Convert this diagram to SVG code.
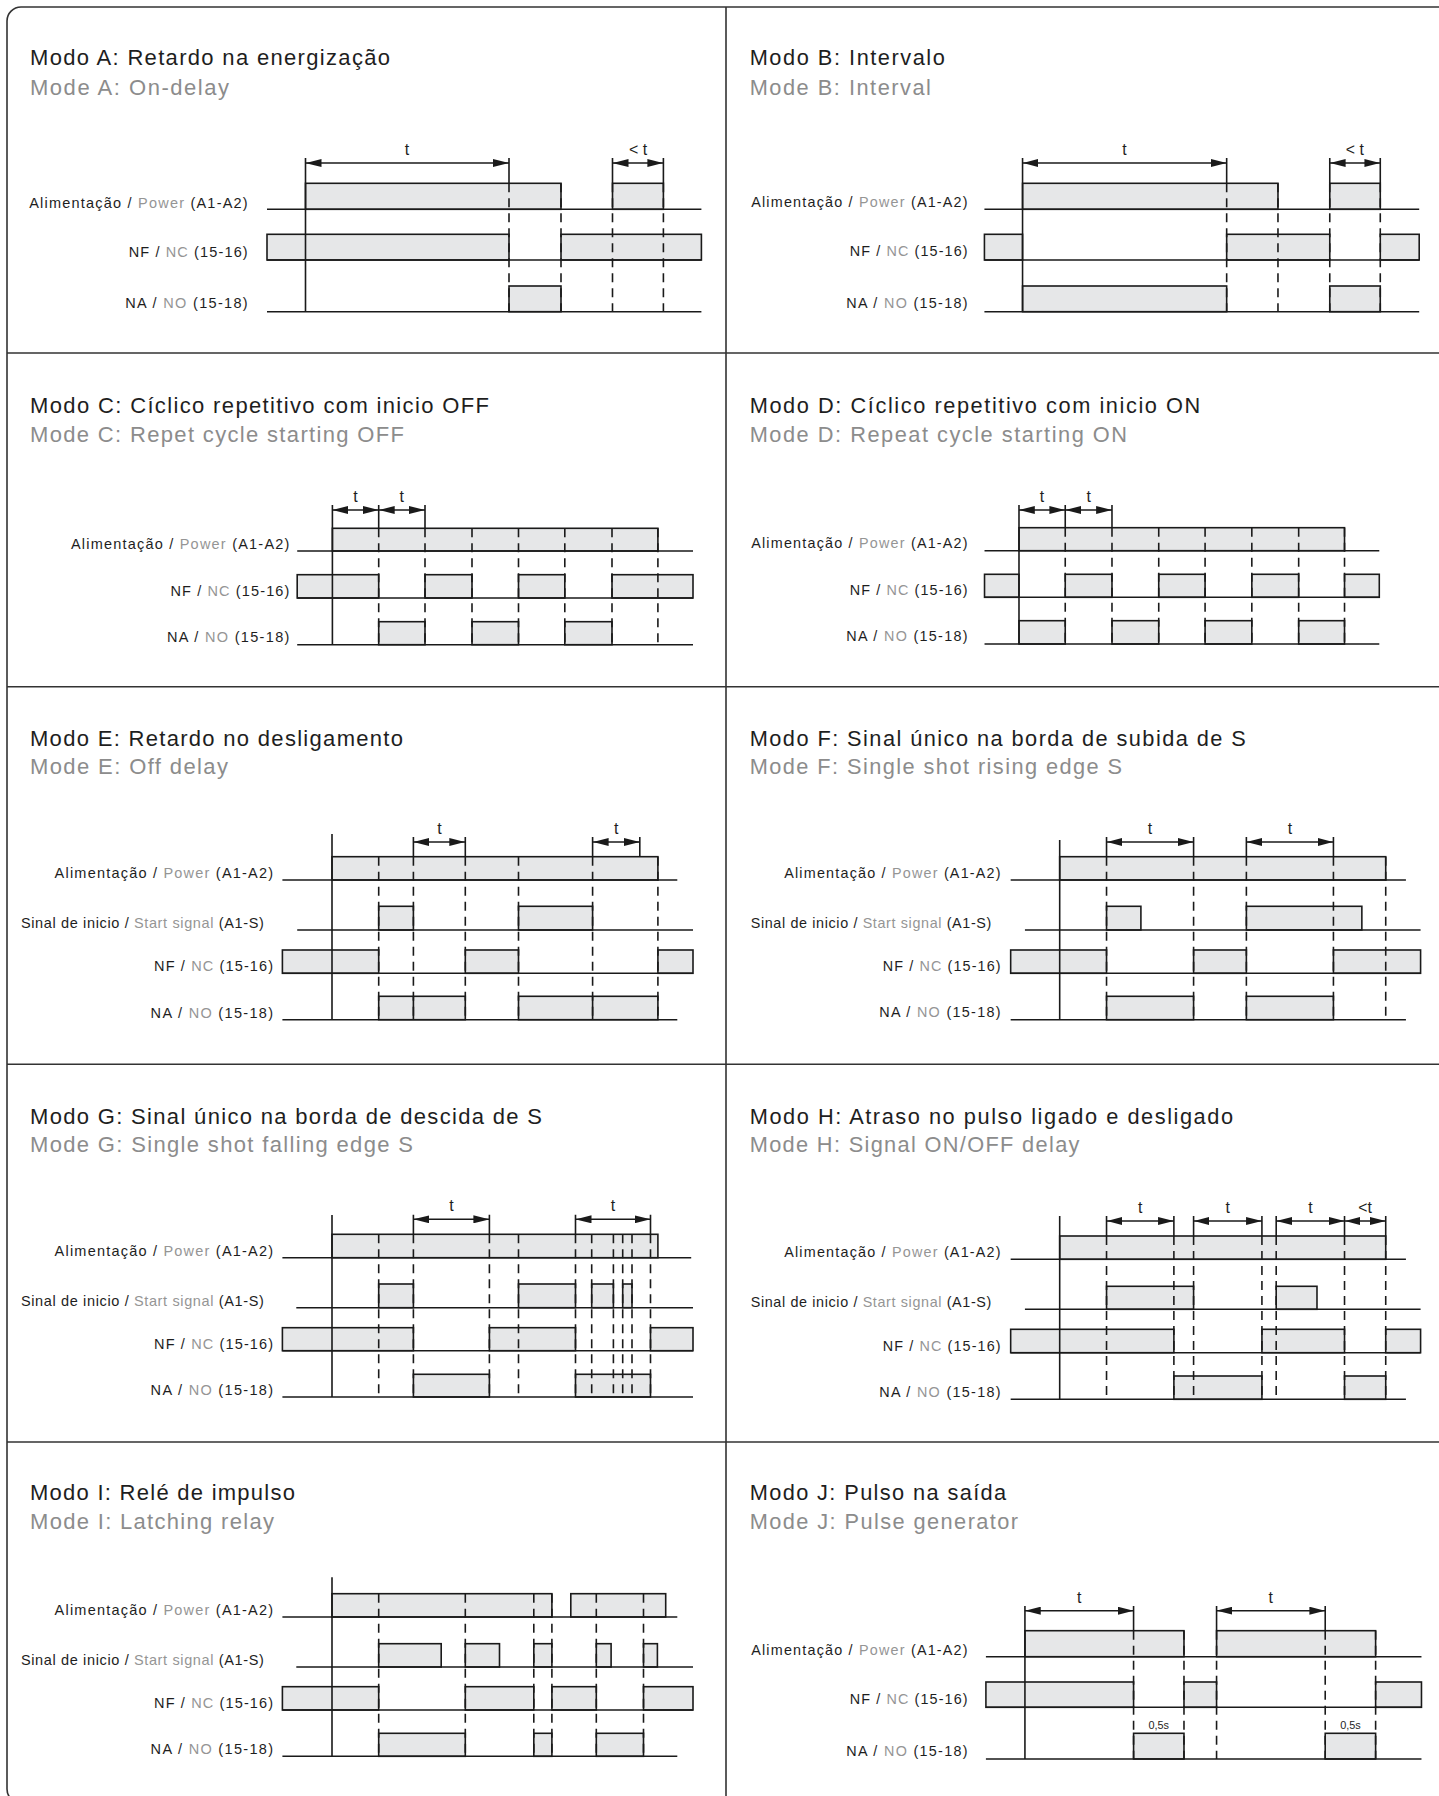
<svg xmlns="http://www.w3.org/2000/svg" width="1439" height="1796" viewBox="0 0 1439 1796">
<defs>
<style>
text{font-family:"Liberation Sans",Arial,Helvetica,sans-serif;fill:#1e1e1e}
.ti{font-size:22px}
.su{font-size:22px;fill:#8c8c8c}
.lb{font-size:14.5px}
.g{fill:#959595}
.t{font-size:16px;text-anchor:middle}
.sm{font-size:11px;text-anchor:middle}
.b{fill:#e6e7e8;stroke:#1a1a1a;stroke-width:1.6}
.l{fill:none;stroke:#1a1a1a;stroke-width:1.6}
.d{fill:none;stroke:#1a1a1a;stroke-width:1.6;stroke-dasharray:9 6}
.dim{stroke:#1a1a1a;stroke-width:1.6;marker-start:url(#ah);marker-end:url(#ah)}
.fr{fill:none;stroke:#333;stroke-width:1.6}
</style>
<marker id="ah" viewBox="0 0 16 8" refX="16" refY="4" markerWidth="16" markerHeight="8" markerUnits="userSpaceOnUse" orient="auto-start-reverse"><path d="M0,0 L16,4 L0,8 z" fill="#1a1a1a"/></marker>
</defs>
<rect width="1439" height="1796" fill="#fff"/>
<g id="frame">
<rect class="fr" x="7" y="7" width="1450" height="1796" rx="14"/>
<path class="fr" d="M726 7V1796M7 353H1439M7 686.7H1439M7 1064.3H1439M7 1442H1439"/>
</g>

<g id="mode-a">
<text class="ti" x="30" y="65" textLength="360" lengthAdjust="spacing">Modo A: Retardo na energização</text>
<text class="su" x="30" y="95" textLength="199" lengthAdjust="spacing">Mode A: On-delay</text>
<text class="lb" x="29.2" y="207.5" textLength="218.5" lengthAdjust="spacing">Alimentação / <tspan class="g">Power</tspan> (A1-A2)</text>
<text class="lb" x="128.7" y="256.5" textLength="119" lengthAdjust="spacing">NF / <tspan class="g">NC</tspan> (15-16)</text>
<text class="lb" x="125.2" y="308" textLength="122.5" lengthAdjust="spacing">NA / <tspan class="g">NO</tspan> (15-18)</text>
<rect class="b" x="305.5" y="183.3" width="255.5" height="26"/>
<rect class="b" x="612.5" y="183.3" width="50.9" height="26"/>
<rect class="b" x="267" y="234.3" width="242" height="25.7"/>
<rect class="b" x="561" y="234.3" width="140.4" height="25.7"/>
<rect class="b" x="509" y="286" width="52" height="25.7"/>
<path class="l" d="M267 209.3H701.4M267 260H701.4M267 311.7H701.4M305.5 158V311.7M509 158V183.3M612.5 158V183.3M663.4 158V183.3"/>
<path class="d" d="M509 183.3V311.7M561 183.3V311.7M612.5 183.3V311.7M663.4 183.3V311.7"/>
<line class="dim" x1="305.5" y1="163" x2="509" y2="163"/>
<line class="dim" x1="612.5" y1="163" x2="663.4" y2="163"/>
<text class="t" x="407" y="155">t</text>
<text class="t" x="638" y="155">&lt; t</text>
</g>

<g id="mode-b" transform="matrix(0.99037 0 0 1 6.93 0)">
<text class="ti" x="750" y="65" textLength="197" lengthAdjust="spacing">Modo B: Intervalo</text>
<text class="su" x="750" y="95" textLength="183" lengthAdjust="spacing">Mode B: Interval</text>
<text class="lb" x="751.5" y="207.5" textLength="218.5" lengthAdjust="spacing">Alimentação / <tspan class="g">Power</tspan> (A1-A2)</text>
<text class="lb" x="851" y="256.5" textLength="119" lengthAdjust="spacing">NF / <tspan class="g">NC</tspan> (15-16)</text>
<text class="lb" x="847.5" y="308" textLength="122.5" lengthAdjust="spacing">NA / <tspan class="g">NO</tspan> (15-18)</text>
<rect class="b" x="1025.5" y="183.3" width="257.9" height="26"/>
<rect class="b" x="1335.7" y="183.3" width="51" height="26"/>
<rect class="b" x="987" y="234.3" width="38.5" height="25.7"/>
<rect class="b" x="1231.6" y="234.3" width="104.1" height="25.7"/>
<rect class="b" x="1386.7" y="234.3" width="39.3" height="25.7"/>
<rect class="b" x="1025.5" y="286" width="206.1" height="25.7"/>
<rect class="b" x="1335.7" y="286" width="51" height="25.7"/>
<path class="l" d="M987 209.3H1426M987 260H1426M987 311.7H1426M1025.5 158V311.7M1231.6 158V183.3M1335.7 158V183.3M1386.7 158V183.3"/>
<path class="d" d="M1231.6 183.3V311.7M1283.4 183.3V311.7M1335.7 183.3V311.7M1386.7 183.3V311.7"/>
<line class="dim" x1="1025.5" y1="163" x2="1231.6" y2="163"/>
<line class="dim" x1="1335.7" y1="163" x2="1386.7" y2="163"/>
<text class="t" x="1128.5" y="155">t</text>
<text class="t" x="1361" y="155">&lt; t</text>
</g>

<g id="mode-c">
<text class="ti" x="30" y="413.3" textLength="459" lengthAdjust="spacing">Modo C: Cíclico repetitivo com inicio OFF</text>
<text class="su" x="30" y="441.7" textLength="374" lengthAdjust="spacing">Mode C: Repet cycle starting OFF</text>
<text class="lb" x="70.9" y="548.5" textLength="218.5" lengthAdjust="spacing">Alimentação / <tspan class="g">Power</tspan> (A1-A2)</text>
<text class="lb" x="170.4" y="595.5" textLength="119" lengthAdjust="spacing">NF / <tspan class="g">NC</tspan> (15-16)</text>
<text class="lb" x="166.9" y="642" textLength="122.5" lengthAdjust="spacing">NA / <tspan class="g">NO</tspan> (15-18)</text>
<rect class="b" x="332.4" y="528.3" width="325.5" height="22.7"/>
<rect class="b" x="297.2" y="574.7" width="81.5" height="23.3"/>
<rect class="b" x="425" y="574.7" width="47" height="23.3"/>
<rect class="b" x="518.5" y="574.7" width="46.3" height="23.3"/>
<rect class="b" x="612" y="574.7" width="81" height="23.3"/>
<rect class="b" x="378.7" y="621.7" width="46.3" height="23"/>
<rect class="b" x="472" y="621.7" width="46.5" height="23"/>
<rect class="b" x="564.8" y="621.7" width="47.2" height="23"/>
<path class="l" d="M297.2 551H693M297.2 598H693M297.2 644.7H693M332.4 505V644.7M378.7 505V528.3M425 505V528.3"/>
<path class="d" d="M378.7 528.3V644.7M425 528.3V644.7M472 528.3V644.7M518.5 528.3V644.7M564.8 528.3V644.7M612 528.3V644.7M657.9 528.3V644.7"/>
<line class="dim" x1="332.4" y1="510" x2="378.7" y2="510"/>
<line class="dim" x1="378.7" y1="510" x2="425" y2="510"/>
<text class="t" x="355.5" y="502">t</text>
<text class="t" x="401.8" y="502">t</text>
</g>

<g id="mode-d" transform="matrix(0.99037 0 0 1 6.93 0)">
<text class="ti" x="750" y="413.3" textLength="455" lengthAdjust="spacing">Modo D: Cíclico repetitivo com inicio ON</text>
<text class="su" x="750" y="441.7" textLength="381" lengthAdjust="spacing">Mode D: Repeat cycle starting ON</text>
<text class="lb" x="751.5" y="548.5" textLength="218.5" lengthAdjust="spacing">Alimentação / <tspan class="g">Power</tspan> (A1-A2)</text>
<text class="lb" x="851" y="595" textLength="119" lengthAdjust="spacing">NF / <tspan class="g">NC</tspan> (15-16)</text>
<text class="lb" x="847.5" y="641.5" textLength="122.5" lengthAdjust="spacing">NA / <tspan class="g">NO</tspan> (15-18)</text>
<rect class="b" x="1021.9" y="527.7" width="328.7" height="23"/>
<rect class="b" x="987.1" y="574.3" width="34.8" height="23"/>
<rect class="b" x="1068.6" y="574.3" width="47.2" height="23"/>
<rect class="b" x="1163" y="574.3" width="46.8" height="23"/>
<rect class="b" x="1257" y="574.3" width="47.3" height="23"/>
<rect class="b" x="1350.6" y="574.3" width="35.1" height="23"/>
<rect class="b" x="1021.9" y="620.7" width="46.7" height="23.3"/>
<rect class="b" x="1115.8" y="620.7" width="47.2" height="23.3"/>
<rect class="b" x="1209.8" y="620.7" width="47.2" height="23.3"/>
<rect class="b" x="1304.3" y="620.7" width="46.3" height="23.3"/>
<path class="l" d="M987.1 550.7H1385.7M987.1 597.3H1385.7M987.1 644H1385.7M1021.9 505V644M1068.6 505V527.7M1115.8 505V527.7"/>
<path class="d" d="M1068.6 527.7V644M1115.8 527.7V644M1163 527.7V644M1209.8 527.7V644M1257 527.7V644M1304.3 527.7V644M1350.6 527.7V644"/>
<line class="dim" x1="1021.9" y1="510" x2="1068.6" y2="510"/>
<line class="dim" x1="1068.6" y1="510" x2="1115.8" y2="510"/>
<text class="t" x="1045.2" y="502">t</text>
<text class="t" x="1092.2" y="502">t</text>
</g>

<g id="mode-e">
<text class="ti" x="30" y="745.7" textLength="373" lengthAdjust="spacing">Modo E: Retardo no desligamento</text>
<text class="su" x="30" y="774" textLength="198" lengthAdjust="spacing">Mode E: Off delay</text>
<text class="lb" x="54.6" y="878" textLength="218.5" lengthAdjust="spacing">Alimentação / <tspan class="g">Power</tspan> (A1-A2)</text>
<text class="lb" x="20.9" y="928" textLength="243" lengthAdjust="spacing">Sinal de inicio / <tspan class="g">Start signal</tspan> (A1-S)</text>
<text class="lb" x="154.1" y="971" textLength="119" lengthAdjust="spacing">NF / <tspan class="g">NC</tspan> (15-16)</text>
<text class="lb" x="150.6" y="1017.5" textLength="122.5" lengthAdjust="spacing">NA / <tspan class="g">NO</tspan> (15-18)</text>
<rect class="b" x="332" y="856.7" width="325.9" height="23.3"/>
<rect class="b" x="378.7" y="906.3" width="34.7" height="23.7"/>
<rect class="b" x="518.5" y="906.3" width="74.1" height="23.7"/>
<rect class="b" x="282.4" y="950" width="96.3" height="23.3"/>
<rect class="b" x="465.3" y="950" width="53.2" height="23.3"/>
<rect class="b" x="657.9" y="950" width="35.1" height="23.3"/>
<rect class="b" x="378.7" y="996.3" width="86.6" height="23.4"/>
<rect class="b" x="518.5" y="996.3" width="139.4" height="23.4"/>
<path class="l" d="M282.4 880H677.3M297.2 930H693M282.4 973.3H693M282.4 1019.7H677.3M332 834V1019.7M413.4 837V856.7M465.3 837V856.7M592.6 837V856.7M639.8 837V856.7M413.4 996.3V1019.7M592.6 996.3V1019.7"/>
<path class="d" d="M378.7 856.7V1019.7M413.4 856.7V1019.7M465.3 856.7V1019.7M518.5 856.7V1019.7M592.6 856.7V1019.7M657.9 856.7V1019.7"/>
<line class="dim" x1="413.4" y1="842" x2="465.3" y2="842"/>
<line class="dim" x1="592.6" y1="842" x2="639.8" y2="842"/>
<text class="t" x="439.4" y="834">t</text>
<text class="t" x="616.2" y="834">t</text>
</g>

<g id="mode-f" transform="matrix(0.99037 0 0 1 6.93 0)">
<text class="ti" x="750" y="745.7" textLength="501" lengthAdjust="spacing">Modo F: Sinal único na borda de subida de S</text>
<text class="su" x="750" y="774" textLength="376" lengthAdjust="spacing">Mode F: Single shot rising edge S</text>
<text class="lb" x="784.8" y="878" textLength="218.5" lengthAdjust="spacing">Alimentação / <tspan class="g">Power</tspan> (A1-A2)</text>
<text class="lb" x="751" y="928" textLength="243" lengthAdjust="spacing">Sinal de inicio / <tspan class="g">Start signal</tspan> (A1-S)</text>
<text class="lb" x="884.3" y="971" textLength="119" lengthAdjust="spacing">NF / <tspan class="g">NC</tspan> (15-16)</text>
<text class="lb" x="880.8" y="1017.5" textLength="122.5" lengthAdjust="spacing">NA / <tspan class="g">NO</tspan> (15-18)</text>
<rect class="b" x="1063" y="856.7" width="329.2" height="23.3"/>
<rect class="b" x="1110.3" y="906.3" width="34.7" height="23.7"/>
<rect class="b" x="1251.5" y="906.3" width="116.6" height="23.7"/>
<rect class="b" x="1013.5" y="950" width="96.8" height="23.3"/>
<rect class="b" x="1198.2" y="950" width="53.3" height="23.3"/>
<rect class="b" x="1339.4" y="950" width="88" height="23.3"/>
<rect class="b" x="1110.3" y="996.3" width="87.9" height="23.4"/>
<rect class="b" x="1251.5" y="996.3" width="87.9" height="23.4"/>
<path class="l" d="M1013.5 880H1412.6M1027.9 930H1427.4M1013.5 973.3H1427.4M1013.5 1019.7H1412.6M1063 840V1019.7M1110.3 837V856.7M1198.2 837V856.7M1251.5 837V856.7M1339.4 837V856.7"/>
<path class="d" d="M1110.3 856.7V1019.7M1198.2 856.7V1019.7M1251.5 856.7V1019.7M1339.4 856.7V1019.7M1392.2 856.7V1019.7"/>
<line class="dim" x1="1110.3" y1="842" x2="1198.2" y2="842"/>
<line class="dim" x1="1251.5" y1="842" x2="1339.4" y2="842"/>
<text class="t" x="1154.2" y="834">t</text>
<text class="t" x="1295.5" y="834">t</text>
</g>

<g id="mode-g">
<text class="ti" x="30" y="1123.7" textLength="512" lengthAdjust="spacing">Modo G: Sinal único na borda de descida de S</text>
<text class="su" x="30" y="1152" textLength="383" lengthAdjust="spacing">Mode G: Single shot falling edge S</text>
<text class="lb" x="54.6" y="1255.7" textLength="218.5" lengthAdjust="spacing">Alimentação / <tspan class="g">Power</tspan> (A1-A2)</text>
<text class="lb" x="20.9" y="1305.7" textLength="243" lengthAdjust="spacing">Sinal de inicio / <tspan class="g">Start signal</tspan> (A1-S)</text>
<text class="lb" x="154.1" y="1348.7" textLength="119" lengthAdjust="spacing">NF / <tspan class="g">NC</tspan> (15-16)</text>
<text class="lb" x="150.6" y="1395" textLength="122.5" lengthAdjust="spacing">NA / <tspan class="g">NO</tspan> (15-18)</text>
<rect class="b" x="332" y="1234.3" width="325.9" height="23.4"/>
<rect class="b" x="378.7" y="1284" width="34.7" height="23.7"/>
<rect class="b" x="518.5" y="1284" width="57" height="23.7"/>
<rect class="b" x="591.7" y="1284" width="21.7" height="23.7"/>
<rect class="b" x="622.7" y="1284" width="9.3" height="23.7"/>
<rect class="b" x="282.4" y="1327.7" width="131" height="23"/>
<rect class="b" x="489.4" y="1327.7" width="86.1" height="23"/>
<rect class="b" x="650.5" y="1327.7" width="42.5" height="23"/>
<rect class="b" x="413.4" y="1374.3" width="76" height="22.7"/>
<rect class="b" x="575.5" y="1374.3" width="75" height="22.7"/>
<path class="l" d="M282.4 1257.7H691.2M296.3 1307.7H693M282.4 1350.7H693M282.4 1397H693M332 1215V1397M413.4 1214.7V1234.3M489.4 1214.7V1234.3M575.5 1214.7V1234.3M650.5 1214.7V1234.3"/>
<path class="d" d="M378.7 1234.3V1397M413.4 1234.3V1397M489.4 1234.3V1397M518.5 1234.3V1397M575.5 1234.3V1397M591.7 1234.3V1397M613.4 1234.3V1397M622.7 1234.3V1397M632 1234.3V1397M650.5 1234.3V1397"/>
<line class="dim" x1="413.4" y1="1219.3" x2="489.4" y2="1219.3"/>
<line class="dim" x1="575.5" y1="1219.3" x2="650.5" y2="1219.3"/>
<text class="t" x="451.4" y="1211.3">t</text>
<text class="t" x="613" y="1211.3">t</text>
</g>

<g id="mode-h" transform="matrix(0.99037 0 0 1 6.93 0)">
<text class="ti" x="750" y="1123.7" textLength="488" lengthAdjust="spacing">Modo H: Atraso no pulso ligado e desligado</text>
<text class="su" x="750" y="1152" textLength="333" lengthAdjust="spacing">Mode H: Signal ON/OFF delay</text>
<text class="lb" x="784.8" y="1257.3" textLength="218.5" lengthAdjust="spacing">Alimentação / <tspan class="g">Power</tspan> (A1-A2)</text>
<text class="lb" x="751" y="1307.3" textLength="243" lengthAdjust="spacing">Sinal de inicio / <tspan class="g">Start signal</tspan> (A1-S)</text>
<text class="lb" x="884.3" y="1350.7" textLength="119" lengthAdjust="spacing">NF / <tspan class="g">NC</tspan> (15-16)</text>
<text class="lb" x="880.8" y="1397.3" textLength="122.5" lengthAdjust="spacing">NA / <tspan class="g">NO</tspan> (15-18)</text>
<rect class="b" x="1063" y="1236" width="329.2" height="23.3"/>
<rect class="b" x="1110.3" y="1286.3" width="87.9" height="23"/>
<rect class="b" x="1281.6" y="1286.3" width="41.2" height="23"/>
<rect class="b" x="1013.5" y="1329.3" width="164.8" height="23.4"/>
<rect class="b" x="1267.2" y="1329.3" width="83.4" height="23.4"/>
<rect class="b" x="1392.2" y="1329.3" width="35.2" height="23.4"/>
<rect class="b" x="1178.3" y="1376" width="88.9" height="23.3"/>
<rect class="b" x="1350.6" y="1376" width="41.6" height="23.3"/>
<path class="l" d="M1013.5 1259.3H1412.6M1027.9 1309.3H1427.4M1013.5 1352.7H1427.4M1013.5 1399.3H1412.6M1063 1216V1399.3M1110.3 1216V1236M1178.3 1216V1236M1198.2 1216V1236M1267.2 1216V1236M1281.6 1216V1236M1350.6 1216V1236M1392.2 1216V1236"/>
<path class="d" d="M1110.3 1236V1399.3M1178.3 1236V1399.3M1198.2 1236V1399.3M1267.2 1236V1399.3M1281.6 1236V1399.3M1350.6 1236V1399.3M1392.2 1236V1399.3"/>
<line class="dim" x1="1110.3" y1="1221" x2="1178.3" y2="1221"/>
<line class="dim" x1="1198.2" y1="1221" x2="1267.2" y2="1221"/>
<line class="dim" x1="1281.6" y1="1221" x2="1350.6" y2="1221"/>
<line class="dim" x1="1350.6" y1="1221" x2="1392.2" y2="1221"/>
<text class="t" x="1144.3" y="1213">t</text>
<text class="t" x="1232.7" y="1213">t</text>
<text class="t" x="1316.1" y="1213">t</text>
<text class="t" x="1371.4" y="1213">&lt;t</text>
</g>

<g id="mode-i">
<text class="ti" x="30" y="1499.7" textLength="265" lengthAdjust="spacing">Modo I: Relé de impulso</text>
<text class="su" x="30" y="1528.7" textLength="244" lengthAdjust="spacing">Mode I: Latching relay</text>
<text class="lb" x="54.6" y="1615" textLength="218.5" lengthAdjust="spacing">Alimentação / <tspan class="g">Power</tspan> (A1-A2)</text>
<text class="lb" x="20.9" y="1665" textLength="243" lengthAdjust="spacing">Sinal de inicio / <tspan class="g">Start signal</tspan> (A1-S)</text>
<text class="lb" x="154.1" y="1708" textLength="119" lengthAdjust="spacing">NF / <tspan class="g">NC</tspan> (15-16)</text>
<text class="lb" x="150.6" y="1754.3" textLength="122.5" lengthAdjust="spacing">NA / <tspan class="g">NO</tspan> (15-18)</text>
<rect class="b" x="332" y="1593.7" width="219.9" height="23.3"/>
<rect class="b" x="570.8" y="1593.7" width="94.9" height="23.3"/>
<rect class="b" x="378.7" y="1643.7" width="62.5" height="23.3"/>
<rect class="b" x="465.3" y="1643.7" width="34.2" height="23.3"/>
<rect class="b" x="533.8" y="1643.7" width="18.1" height="23.3"/>
<rect class="b" x="596.3" y="1643.7" width="14.8" height="23.3"/>
<rect class="b" x="643.5" y="1643.7" width="13.9" height="23.3"/>
<rect class="b" x="282.4" y="1686.7" width="96.3" height="23.3"/>
<rect class="b" x="465.3" y="1686.7" width="68.5" height="23.3"/>
<rect class="b" x="551.9" y="1686.7" width="44.4" height="23.3"/>
<rect class="b" x="643.5" y="1686.7" width="49.5" height="23.3"/>
<rect class="b" x="378.7" y="1733.3" width="86.6" height="23"/>
<rect class="b" x="533.8" y="1733.3" width="18.1" height="23"/>
<rect class="b" x="596.3" y="1733.3" width="47.2" height="23"/>
<path class="l" d="M282.4 1617H677.3M296.3 1667H693M282.4 1710H693M282.4 1756.3H677.3M332 1577.3V1756.3"/>
<path class="d" d="M378.7 1593.7V1756.3M465.3 1593.7V1756.3M533.8 1593.7V1756.3M551.9 1593.7V1756.3M596.3 1593.7V1756.3M643.5 1593.7V1756.3"/>
</g>

<g id="mode-j" transform="matrix(0.99037 0 0 1 6.93 0)">
<text class="ti" x="750" y="1499.7" textLength="259" lengthAdjust="spacing">Modo J: Pulso na saída</text>
<text class="su" x="750" y="1528.7" textLength="271" lengthAdjust="spacing">Mode J: Pulse generator</text>
<text class="lb" x="751.5" y="1654.7" textLength="218.5" lengthAdjust="spacing">Alimentação / <tspan class="g">Power</tspan> (A1-A2)</text>
<text class="lb" x="851" y="1704.5" textLength="119" lengthAdjust="spacing">NF / <tspan class="g">NC</tspan> (15-16)</text>
<text class="lb" x="847.5" y="1756" textLength="122.5" lengthAdjust="spacing">NA / <tspan class="g">NO</tspan> (15-18)</text>
<rect class="b" x="1027.9" y="1630.7" width="160.6" height="26"/>
<rect class="b" x="1221.4" y="1630.7" width="160.6" height="26"/>
<rect class="b" x="988.5" y="1682" width="149.1" height="25.3"/>
<rect class="b" x="1188.5" y="1682" width="32.9" height="25.3"/>
<rect class="b" x="1382" y="1682" width="46.3" height="25.3"/>
<rect class="b" x="1137.6" y="1733.3" width="50.9" height="25.7"/>
<rect class="b" x="1331.1" y="1733.3" width="50.9" height="25.7"/>
<path class="l" d="M988.5 1656.7H1428.3M988.5 1707.3H1428.3M988.5 1759H1428.3M1027.9 1606V1759M1137.6 1606V1630.7M1221.4 1606V1630.7M1331.1 1606V1630.7"/>
<path class="d" d="M1137.6 1630.7V1759M1188.5 1630.7V1759M1221.4 1630.7V1759M1331.1 1630.7V1759M1382 1630.7V1759"/>
<line class="dim" x1="1027.9" y1="1610.7" x2="1137.6" y2="1610.7"/>
<line class="dim" x1="1221.4" y1="1610.7" x2="1331.1" y2="1610.7"/>
<text class="t" x="1082.7" y="1602.7">t</text>
<text class="t" x="1276.2" y="1602.7">t</text>
<text class="sm" x="1163" y="1729">0,5s</text>
<text class="sm" x="1356.6" y="1729">0,5s</text>
</g>
</svg>
